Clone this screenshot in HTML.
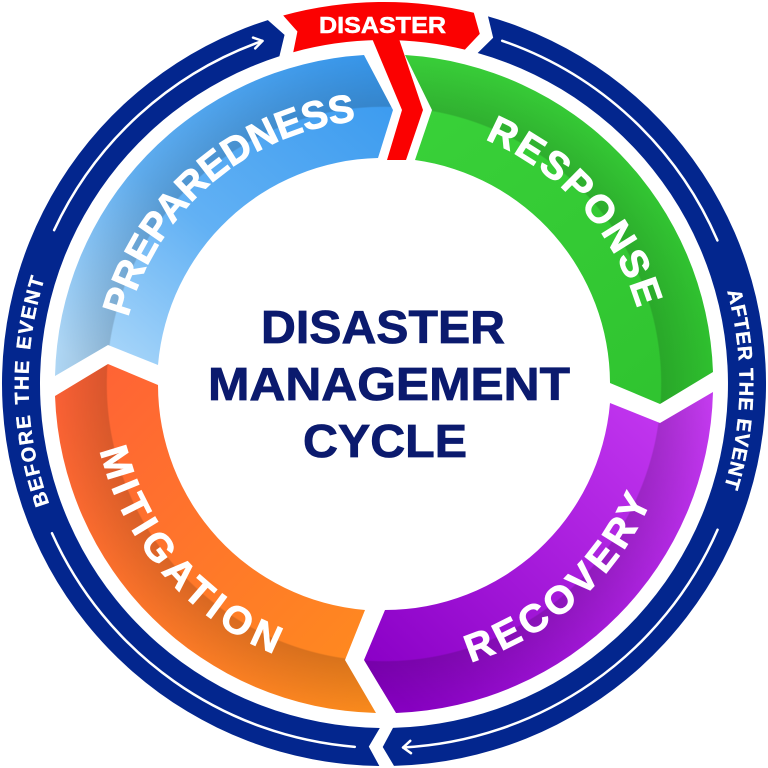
<!DOCTYPE html>
<html><head><meta charset="utf-8"><style>
html,body{margin:0;padding:0;background:#fff;}
svg{display:block;}
text{font-family:"Liberation Sans",Arial,sans-serif;font-weight:bold;}
</style></head><body>
<svg width="768" height="768" viewBox="0 0 768 768" xmlns="http://www.w3.org/2000/svg">
<defs>
 <linearGradient id="gB" gradientUnits="userSpaceOnUse" x1="100" y1="380" x2="360" y2="60">
  <stop offset="0" stop-color="#b2dbfa"/><stop offset="0.45" stop-color="#62b1f4"/><stop offset="1" stop-color="#3a9aef"/>
 </linearGradient>
 <linearGradient id="gG" gradientUnits="userSpaceOnUse" x1="420" y1="60" x2="700" y2="400">
  <stop offset="0" stop-color="#3ad23a"/><stop offset="1" stop-color="#2fc32f"/>
 </linearGradient>
 <linearGradient id="gP" gradientUnits="userSpaceOnUse" x1="700" y1="390" x2="400" y2="700">
  <stop offset="0" stop-color="#c83cf4"/><stop offset="1" stop-color="#8a00c6"/>
 </linearGradient>
 <linearGradient id="gO" gradientUnits="userSpaceOnUse" x1="60" y1="390" x2="380" y2="700">
  <stop offset="0" stop-color="#ff6236"/><stop offset="1" stop-color="#ff8d1d"/>
 </linearGradient>
 <radialGradient id="fold" gradientUnits="userSpaceOnUse" cx="384" cy="384" r="330">
  <stop offset="0" stop-color="#000" stop-opacity="0"/>
  <stop offset="0.838" stop-color="#000" stop-opacity="0"/>
  <stop offset="0.842" stop-color="#000" stop-opacity="0.15"/>
  <stop offset="1" stop-color="#000" stop-opacity="0.02"/>
 </radialGradient>

 <path id="segG" d="M405,55 A329,329 0 0 1 713,372 L660,404 L610,383 A226,226 0 0 0 415,160 L432,110 Z"/>
 <path id="segP" d="M713,392 A329,329 0 0 1 396,713 L364,660 L385,610 A226,226 0 0 0 610,403 L660,423 Z"/>
 <path id="segO" d="M376,713 A329,329 0 0 1 55,396 L108,364 L158,385 A226,226 0 0 0 365,610 L345,660 Z"/>
 <path id="segB" d="M55,376 A329,329 0 0 1 364,55 L393,110 L378,158 A226,226 0 0 0 158,365 L108,345 Z"/>

 <path id="tpPrep" d="M124.14,433.33 A264.5,264.5 0 0 1 471.20,134.29"/>
 <path id="tpResp" d="M329.68,125.14 A264.5,264.5 0 0 1 635.34,466.38"/>
 <path id="tpRec" d="M295.13,661.62 A291.5,291.5 0 0 0 668.86,322.15"/>
 <path id="tpMit" d="M108.29,289.35 A291.5,291.5 0 0 0 439.87,670.10"/>
 <path id="tpBefore" d="M212.19,695.23 A355.5,355.5 0 0 1 200.37,79.60"/>
 <path id="tpAfter" d="M566.82,79.11 A355.5,355.5 0 0 1 556.62,694.78"/>
</defs>

<rect width="768" height="768" fill="#fff"/>

<!-- outer navy ring arcs -->
<path fill="#03268e" d="M379.33,765.97 A382,382 0 0 1 267.86,20.08 L284.55,34.89 L279.41,56.28 A344,344 0 0 0 379.80,727.97 L368.80,746.68 Z"/>
<path fill="#03268e" d="M488.01,16.43 A382,382 0 0 1 394.0,765.87 L382.73,746.99 L393.0,727.88 A344,344 0 0 0 477.66,53.00 L493.16,37.80 Z"/>

<!-- red banner -->
<path fill="#fb0101" d="M283.20,15.54 A382,382 0 0 1 473.82,12.71 L479.78,33.86 L464.89,49.65 A344,344 0 0 0 293.23,52.19 L297.41,31.48 Z"/>
<!-- red stem -->
<path fill="#fb0101" d="M371,36 L402,110 L387,160 L406,160 L423,110 L398,36 Z"/>

<!-- segments -->
<use href="#segB" fill="url(#gB)"/>
<use href="#segG" fill="url(#gG)"/>
<use href="#segP" fill="url(#gP)"/>
<use href="#segO" fill="url(#gO)"/>
<use href="#segB" fill="url(#fold)"/>
<use href="#segG" fill="url(#fold)"/>
<use href="#segP" fill="url(#fold)"/>
<use href="#segO" fill="url(#fold)"/>

<!-- white arrow lines in ring -->
<g fill="none" stroke="#fff" stroke-width="2.5" stroke-linecap="round" stroke-linejoin="round">
 <path d="M54.10,230.17 A364,364 0 0 1 262.49,40.88"/>
 <path d="M255.2,48.4 L262.49,40.88 L253.0,37.6"/>
 <path d="M502.18,40.78 A363,363 0 0 1 717.40,240.42"/>
 <path d="M717.56,529.73 A364,364 0 0 1 403.05,747.50"/>
 <path d="M411.0,753.2 L403.05,747.50 L410.3,740.8"/>
 <path d="M354.81,746.83 A364,364 0 0 1 51.99,533.21"/>
</g>

<!-- ring texts -->
<text font-size="20" fill="#fff" stroke="#fff" stroke-width="0.4" letter-spacing="1.6" word-spacing="2" text-anchor="middle"><textPath href="#tpBefore" startOffset="50%">BEFORE THE EVENT</textPath></text>
<text font-size="20" fill="#fff" stroke="#fff" stroke-width="0.4" letter-spacing="1.0" text-anchor="middle"><textPath href="#tpAfter" startOffset="50%">AFTER THE EVENT</textPath></text>

<!-- banner text -->
<text x="319" y="33" font-size="23" fill="#fff" stroke="#fff" stroke-width="0.5" textLength="127" lengthAdjust="spacingAndGlyphs">DISASTER</text>

<!-- segment labels -->
<g fill="#fff" stroke="#fff" stroke-width="0.9" font-size="39">
<text letter-spacing="0" text-anchor="middle"><textPath href="#tpPrep" startOffset="50%">PREPAREDNESS</textPath></text>
<text letter-spacing="2.6" text-anchor="middle"><textPath href="#tpResp" startOffset="50%">RESPONSE</textPath></text>
<text letter-spacing="4.6" text-anchor="middle"><textPath href="#tpRec" startOffset="50%">RECOVERY</textPath></text>
<text letter-spacing="5.7" text-anchor="middle"><textPath href="#tpMit" startOffset="50%">MITIGATION</textPath></text>
</g>

<!-- center title -->
<g fill="#0b1a6e" stroke="#0b1a6e" stroke-width="0.8" font-size="46">
<text x="261" y="343" textLength="244" lengthAdjust="spacingAndGlyphs">DISASTER</text>
<text x="208" y="400" textLength="362" lengthAdjust="spacingAndGlyphs">MANAGEMENT</text>
<text x="303" y="457" textLength="164" lengthAdjust="spacingAndGlyphs">CYCLE</text>
</g>
</svg>
</body></html>
